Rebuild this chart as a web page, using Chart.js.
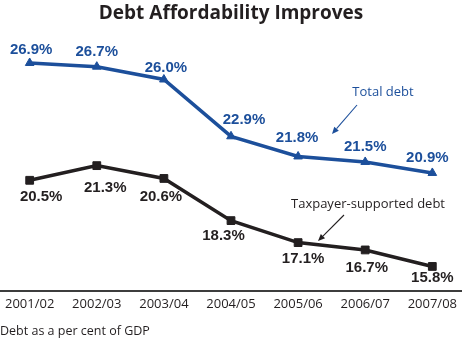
<!DOCTYPE html>
<html><head><meta charset="utf-8">
<script src="https://cdn.jsdelivr.net/npm/chart.js@4/dist/chart.umd.min.js"></script>
<style>html,body{margin:0;padding:0;background:#fff}</style>
</head><body>
<canvas id="c" width="462" height="339"></canvas>
<script>
// ---- data ----
const years = ['2001/02','2002/03','2003/04','2004/05','2005/06','2006/07','2007/08'];
const totalDebt = [26.9, 26.7, 26.0, 22.9, 21.8, 21.5, 20.9];
const taxpayerDebt = [20.5, 21.3, 20.6, 18.3, 17.1, 16.7, 15.8];
const seriesNames = ['Total debt', 'Taxpayer-supported debt'];
const titleText = 'Debt Affordability Improves';
const footnoteText = 'Debt as a per cent of GDP';

// ---- styles ----
const BLUE = '#1c4f9b';
const DARK = '#231f20';
const totalLabelOffsets = [[1.5,-13],[0,-14.5],[2,-12],[13,-16],[-1,-19],[0,-15],[-5,-15.5]];
const taxLabelOffsets = [[11.5,16.5],[8.5,22],[-3,18.5],[-7.5,15.5],[5,16],[1.5,17.5],[0,11.5]];
const LABEL_FONT = 'bold 15px "Liberation Sans Narrow","Arial Narrow","Liberation Sans",Arial,sans-serif';

function arrow(ctx, x1, y1, x2, y2, color){
  ctx.save();
  ctx.strokeStyle = color; ctx.fillStyle = color; ctx.lineWidth = 1.1;
  const a = Math.atan2(y2-y1, x2-x1), L = 7, W = 3;
  const bx = x2 - L*Math.cos(a), by = y2 - L*Math.sin(a);
  ctx.beginPath(); ctx.moveTo(x1,y1); ctx.lineTo(bx,by); ctx.stroke();
  ctx.beginPath(); ctx.moveTo(x2,y2);
  ctx.lineTo(bx + W*Math.sin(a), by - W*Math.cos(a));
  ctx.lineTo(bx - W*Math.sin(a), by + W*Math.cos(a));
  ctx.closePath(); ctx.fill();
  ctx.restore();
}

const decor = {
  id: 'decor',
  beforeDatasetsDraw(chart){
    const ctx = chart.ctx, y = chart.chartArea.bottom;
    ctx.save();
    ctx.strokeStyle = '#3d3d3d'; ctx.lineWidth = 2;
    ctx.beginPath(); ctx.moveTo(0, y); ctx.lineTo(chart.width, y); ctx.stroke();
    ctx.restore();
  },
  afterDatasetsDraw(chart){
    const ctx = chart.ctx;
    ctx.save();
    ctx.textAlign = 'center'; ctx.textBaseline = 'middle';
    ctx.font = LABEL_FONT;
    const sets = [[0, totalDebt, totalLabelOffsets, BLUE],[1, taxpayerDebt, taxLabelOffsets, DARK]];
    sets.forEach(([di, vals, offs, col]) => {
      const meta = chart.getDatasetMeta(di);
      ctx.fillStyle = col;
      meta.data.forEach((pt, i) => {
        ctx.fillText(vals[i].toFixed(1) + '%', pt.x + offs[i][0], pt.y + offs[i][1]);
      });
    });
    // series annotations
    ctx.font = '13px "Open Sans", sans-serif';
    ctx.fillStyle = BLUE;
    ctx.fillText(seriesNames[0], 383, 92);
    ctx.fillStyle = DARK;
    ctx.fillText(seriesNames[1], 368, 204);
    arrow(ctx, 357, 105, 332, 134, BLUE);
    arrow(ctx, 344, 215, 318, 241, DARK);
    // title
    ctx.font = 'bold 19px "Open Sans", sans-serif';
    ctx.fillStyle = DARK;
    ctx.textBaseline = 'alphabetic';
    ctx.fillText(titleText, 231, 19);
    // footnote
    ctx.textAlign = 'left';
    ctx.font = '12.5px "Open Sans", sans-serif';
    ctx.fillText(footnoteText, 0, 335);
    ctx.restore();
  }
};

new Chart(document.getElementById('c'), {
  type: 'line',
  data: {
    labels: years,
    datasets: [
      { label: seriesNames[0], data: totalDebt, borderColor: BLUE, backgroundColor: BLUE,
        borderWidth: 3.5, pointStyle: 'triangle', pointRadius: 5, pointBorderWidth: 1,
        pointBackgroundColor: BLUE, pointBorderColor: BLUE, tension: 0 },
      { label: seriesNames[1], data: taxpayerDebt, borderColor: DARK, backgroundColor: DARK,
        borderWidth: 3.5, pointStyle: 'rect', pointRadius: 5.5, pointBorderWidth: 1,
        pointBackgroundColor: DARK, pointBorderColor: DARK, tension: 0 }
    ]
  },
  options: {
    responsive: false, animation: false, devicePixelRatio: 1,
    layout: { padding: { top: 30, left: 24, right: 27, bottom: 0 } },
    plugins: { legend: { display: false }, title: { display: false }, tooltip: { enabled: false } },
    scales: {
      x: {
        offset: false,
        grid: { display: false, drawTicks: false },
        border: { display: false },
        ticks: { color: DARK, font: { family: '"Open Sans", sans-serif', size: 13 }, padding: 5, maxRotation: 0, autoSkip: false },
        afterFit(scale){ scale.height = 48; }
      },
      y: { display: false, min: 14.46, max: 28.7 }
    }
  },
  plugins: [decor]
});
</script>
</body></html>
